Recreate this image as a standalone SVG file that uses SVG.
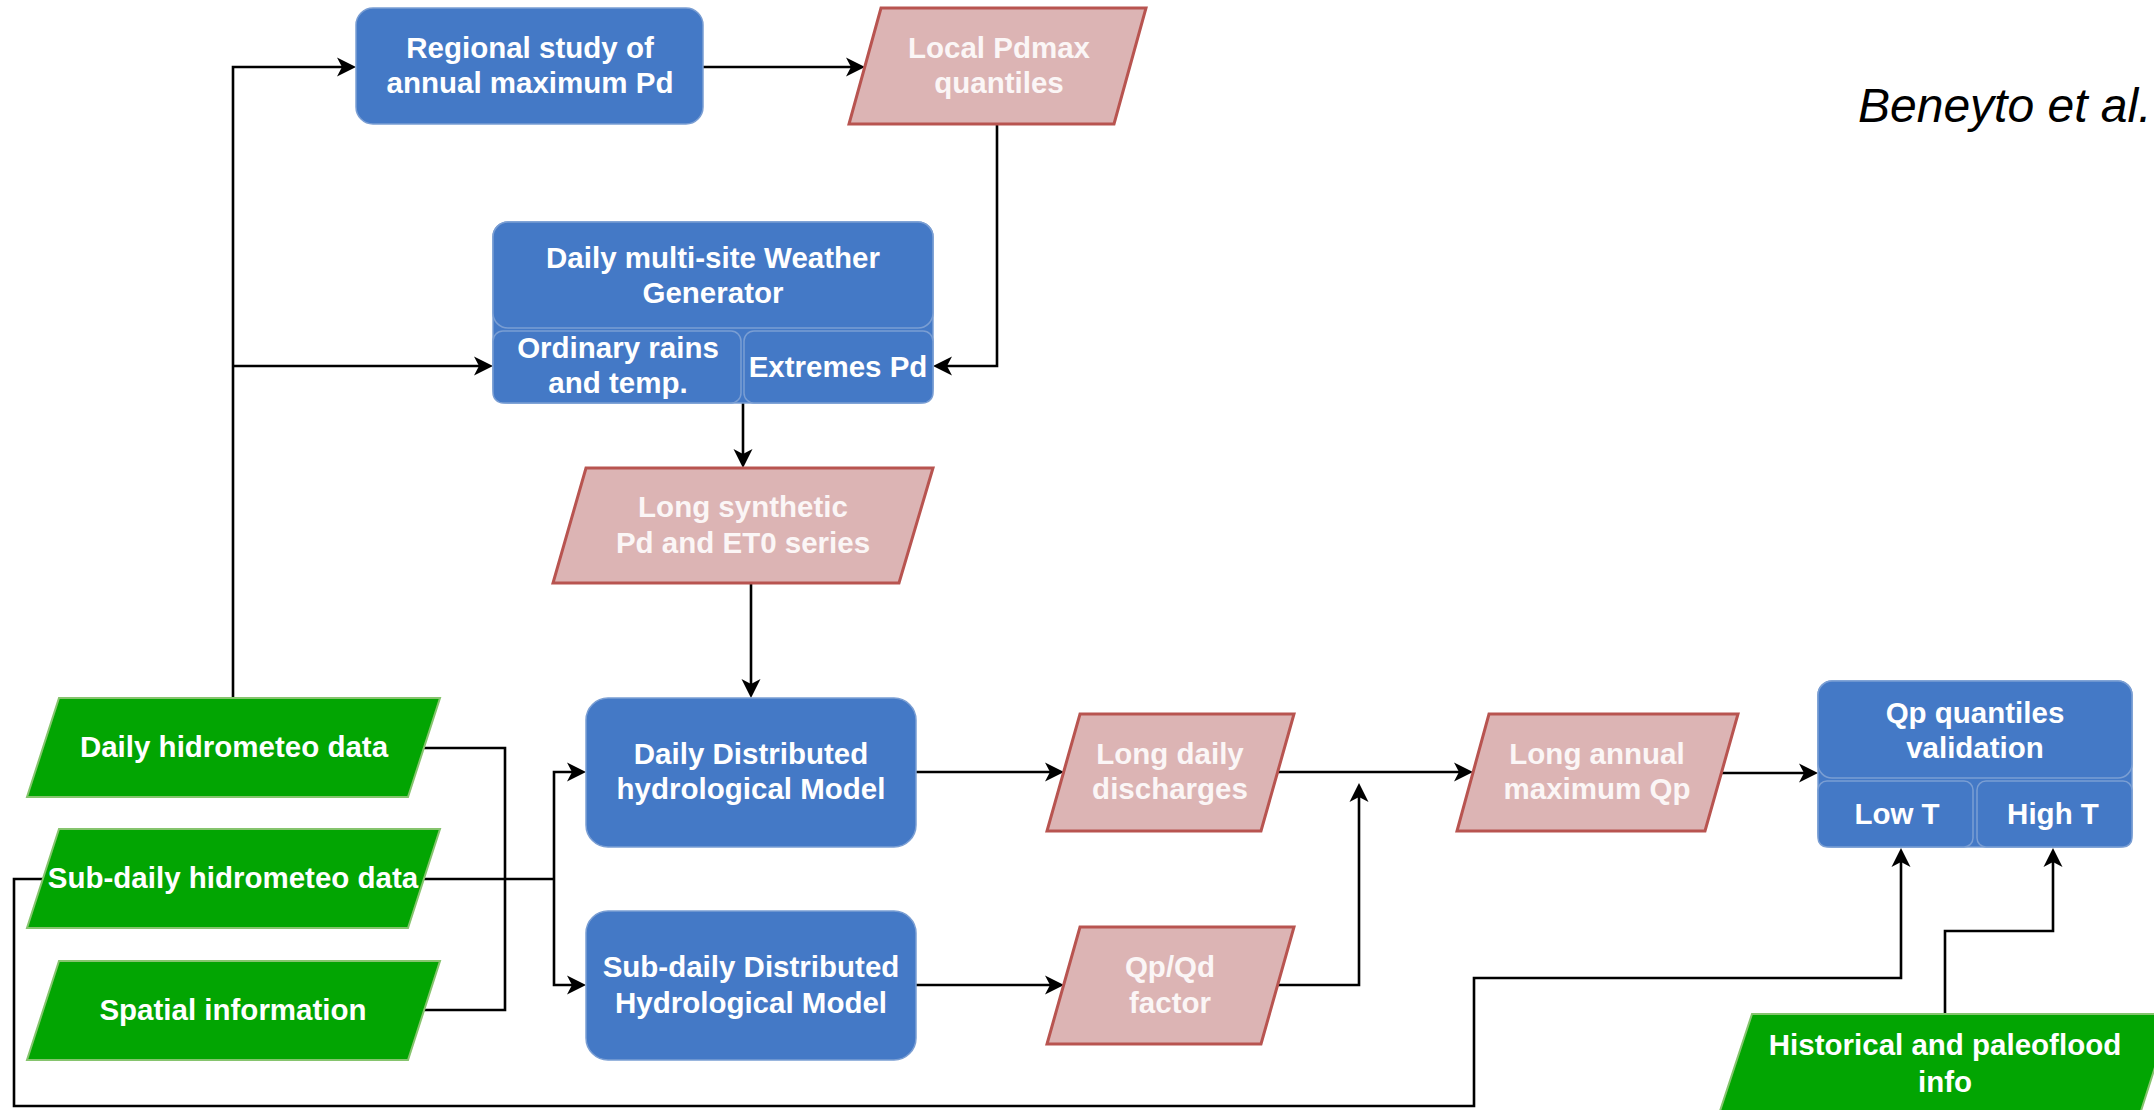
<svg xmlns="http://www.w3.org/2000/svg" width="2154" height="1110" viewBox="0 0 2154 1110">
<style>
.blue{fill:#4479c6;stroke:#7a9ed3;stroke-width:1.5}
.pink{fill:#dcb4b4;stroke:#b85450;stroke-width:3}
.green{fill:#02a502;stroke:#86c46e;stroke-width:2}
.t{font-family:"Liberation Sans",Arial,sans-serif;font-weight:bold;font-size:29.5px;fill:#ffffff;text-anchor:middle}
.tp{fill:#fbf6f6}
.c{fill:none;stroke:#000000;stroke-width:2.6}
.a{marker-end:url(#arr)}
</style>
<defs>
<marker id="arr" markerUnits="userSpaceOnUse" viewBox="-20 -12 26 24" markerWidth="26" markerHeight="24" refX="0" refY="0" orient="auto">
<path d="M4,0 L-15,-9.5 L-10,0 L-15,9.5 Z" fill="#000000"/>
</marker>
</defs>
<rect width="2154" height="1110" fill="#ffffff"/>

<g id="connectors">
<path class="c a" d="M233,698 L233,67 L352,67"/>
<path class="c a" d="M233,366 L489,366"/>
<path class="c a" d="M703,67 L861,67"/>
<path class="c a" d="M997,124 L997,366 L937,366"/>
<path class="c a" d="M743,403 L743,464"/>
<path class="c a" d="M751,583 L751,694"/>
<path class="c" d="M424,748 L505,748 L505,1010 L423,1010"/>
<path class="c" d="M424,879 L554,879"/>
<path class="c a" d="M554,879 L554,772 L582,772"/>
<path class="c a" d="M554,879 L554,985 L582,985"/>
<path class="c a" d="M916,772 L1060,772"/>
<path class="c a" d="M916,985 L1060,985"/>
<path class="c a" d="M1277,772 L1469,772"/>
<path class="c a" d="M1277,985 L1359,985 L1359,787"/>
<path class="c a" d="M1722,773 L1814,773"/>
<path class="c a" d="M43,879 L14,879 L14,1106 L1474,1106 L1474,978 L1901,978 L1901,852"/>
<path class="c a" d="M1945,1014 L1945,931 L2053,931 L2053,852"/>
</g>

<g id="regional">
<rect class="blue" x="356" y="8" width="347" height="116" rx="17"/>
<text class="t" x="530" y="58">Regional study of</text>
<text class="t" x="530" y="93">annual maximum Pd</text>
</g>

<g id="local-pdmax">
<polygon class="pink" points="881,8 1146,8 1114,124 849,124"/>
<text class="t tp" x="999" y="58">Local Pdmax</text>
<text class="t tp" x="999" y="93">quantiles</text>
</g>

<g id="weather-generator">
<rect class="blue" x="493" y="222" width="440" height="181" rx="15"/>
<rect class="blue" x="493" y="222" width="440" height="106" rx="15"/>
<rect class="blue" x="493" y="331" width="248" height="72" rx="10"/>
<rect class="blue" x="744" y="331" width="189" height="72" rx="10"/>
<text class="t" x="713" y="268">Daily multi-site Weather</text>
<text class="t" x="713" y="303">Generator</text>
<text class="t" x="618" y="358">Ordinary rains</text>
<text class="t" x="618" y="393">and temp.</text>
<text class="t" x="838" y="377">Extremes Pd</text>
</g>

<g id="long-synthetic">
<polygon class="pink" points="586,468 933,468 899,583 553,583"/>
<text class="t tp" x="743" y="517">Long synthetic</text>
<text class="t tp" x="743" y="553">Pd and ET0 series</text>
</g>

<g id="daily-hidrometeo">
<polygon class="green" points="59,698 440,698 408,797 27,797"/>
<text class="t" x="234" y="757">Daily hidrometeo data</text>
</g>

<g id="subdaily-hidrometeo">
<polygon class="green" points="59,829 440,829 408,928 27,928"/>
<text class="t" x="233" y="888">Sub-daily hidrometeo data</text>
</g>

<g id="spatial-information">
<polygon class="green" points="59,961 440,961 408,1060 27,1060"/>
<text class="t" x="233" y="1020">Spatial information</text>
</g>

<g id="daily-distributed">
<rect class="blue" x="586" y="698" width="330" height="149" rx="22"/>
<text class="t" x="751" y="764">Daily Distributed</text>
<text class="t" x="751" y="799">hydrological Model</text>
</g>

<g id="subdaily-distributed">
<rect class="blue" x="586" y="911" width="330" height="149" rx="22"/>
<text class="t" x="751" y="977">Sub-daily Distributed</text>
<text class="t" x="751" y="1013">Hydrological Model</text>
</g>

<g id="long-daily-discharges">
<polygon class="pink" points="1080,714 1294,714 1261,831 1047,831"/>
<text class="t tp" x="1170" y="764">Long daily</text>
<text class="t tp" x="1170" y="799">discharges</text>
</g>

<g id="qpqd-factor">
<polygon class="pink" points="1080,927 1294,927 1261,1044 1047,1044"/>
<text class="t tp" x="1170" y="977">Qp/Qd</text>
<text class="t tp" x="1170" y="1013">factor</text>
</g>

<g id="long-annual-max">
<polygon class="pink" points="1489,714 1738,714 1705,831 1457,831"/>
<text class="t tp" x="1597" y="764">Long annual</text>
<text class="t tp" x="1597" y="799">maximum Qp</text>
</g>

<g id="qp-validation">
<rect class="blue" x="1818" y="681" width="314" height="166" rx="14"/>
<rect class="blue" x="1818" y="681" width="314" height="97" rx="14"/>
<rect class="blue" x="1818" y="781" width="155" height="66" rx="9"/>
<rect class="blue" x="1977" y="781" width="155" height="66" rx="9"/>
<text class="t" x="1975" y="723">Qp quantiles</text>
<text class="t" x="1975" y="758">validation</text>
<text class="t" x="1897" y="824">Low T</text>
<text class="t" x="2053" y="824">High T</text>
</g>

<g id="historical-paleoflood">
<polygon class="green" points="1752,1014 2172,1014 2140,1114 1719,1114"/>
<text class="t" x="1945" y="1055">Historical and paleoflood</text>
<text class="t" x="1945" y="1092">info</text>
</g>

<text x="1858" y="122" font-family="Liberation Sans, Arial, sans-serif" font-style="italic" font-size="48" fill="#000000">Beneyto et al.</text>
</svg>
